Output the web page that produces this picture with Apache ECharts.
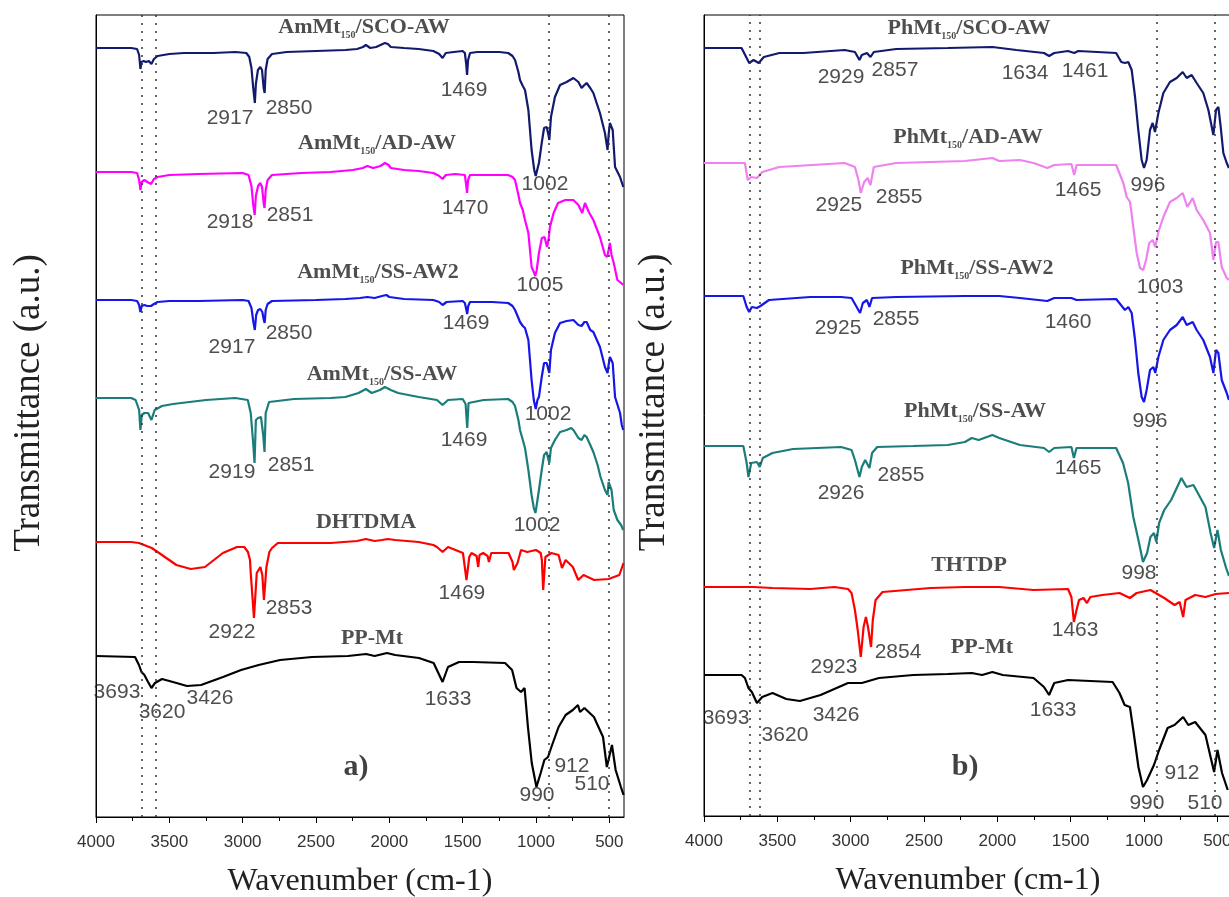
<!DOCTYPE html>
<html><head><meta charset="utf-8">
<script src="https://cdn.jsdelivr.net/npm/echarts@6/dist/echarts.min.js"></script>
<style>html,body{margin:0;padding:0;background:#fff}#c{width:1229px;height:897px}</style>
</head><body><div id="c"></div>
<script>
// ---------- tick values ----------
const majorTicks = [500,1000,1500,2000,2500,3000,3500,4000];
const minorTicks = [750,1250,1750,2250,2750,3250,3750];
const refLinesA = [3690,3590,912,506];
const refLinesB = [3690,3620,912,520];

// ---------- panel a spectra [wavenumber, transmittance a.u.] ----------
const a_SCO = [[4000,769],[3760,769],[3720,768],[3706,762],[3697,748],[3690,755],[3675,756],[3660,755],[3640,756],[3622,753],[3605,758],[3580,761],[3500,763],[3400,764],[3200,764],[3050,765],[2975,764],[2955,760],[2940,749],[2928,729],[2917,714],[2910,733],[2896,747],[2880,750],[2868,747],[2857,729],[2850,724],[2843,747],[2830,758],[2800,763],[2700,765],[2500,766],[2300,767],[2220,768],[2180,770],[2160,772],[2130,769],[2090,770],[2060,772],[2030,774],[2010,773],[1990,770],[1900,769],[1800,768],[1700,766],[1660,763],[1637,759],[1615,764],[1560,765],[1500,766],[1485,764],[1476,753],[1470,742],[1463,757],[1450,764],[1400,765],[1250,765],[1190,764],[1160,761],[1143,757],[1120,745],[1109,737],[1090,731],[1075,727],[1052,707],[1030,667],[1012,647],[1002,641],[995,642],[980,654],[961,674],[945,689],[927,690],[915,682],[909,677],[898,700],[871,720],[836,732],[791,735],[745,739],[711,735],[689,729],[670,732],[655,734],[630,729],[609,724],[564,704],[530,684],[512,667],[505,682],[496,694],[477,687],[461,650],[427,640],[405,630]];
const a_AD = [[4000,645],[3760,645],[3720,644],[3706,637],[3697,627],[3688,635],[3670,637],[3650,635],[3625,633],[3605,638],[3580,640],[3500,642],[3300,643],[3000,644],[2960,642],[2940,631],[2928,612],[2918,602],[2910,621],[2895,631],[2880,634],[2868,630],[2857,614],[2851,609],[2843,627],[2830,637],[2800,642],[2600,644],[2400,645],[2250,647],[2180,649],[2150,651],[2110,649],[2060,651],[2030,654],[2005,652],[1990,649],[1900,647],[1800,646],[1700,644],[1660,641],[1637,638],[1615,642],[1550,643],[1485,642],[1477,633],[1470,624],[1463,637],[1450,642],[1300,642],[1190,642],[1160,640],[1143,637],[1120,622],[1109,614],[1090,607],[1075,597],[1052,584],[1030,550],[1015,545],[1005,541],[995,547],[980,564],[960,579],[942,580],[925,570],[915,577],[905,590],[880,604],[850,614],[800,617],[745,617],[711,612],[685,604],[666,614],[640,605],[609,597],[564,580],[530,562],[515,560],[505,567],[496,574],[485,562],[470,554],[445,537],[420,534],[405,532]];
const a_SS2 = [[4000,517],[3760,517],[3720,516],[3706,512],[3697,505],[3688,511],[3670,512],[3650,511],[3625,511],[3605,513],[3580,515],[3500,516],[3300,516],[3000,517],[2960,516],[2940,509],[2927,495],[2917,487],[2908,502],[2895,507],[2880,508],[2866,505],[2856,497],[2850,494],[2843,507],[2830,513],[2800,516],[2500,517],[2300,518],[2200,519],[2150,520],[2100,519],[2050,521],[2020,522],[2000,520],[1900,518],[1700,517],[1660,515],[1637,512],[1610,515],[1500,516],[1485,514],[1476,508],[1469,503],[1462,511],[1450,515],[1300,515],[1190,514],[1160,511],[1143,507],[1120,499],[1109,495],[1090,491],[1075,489],[1052,477],[1030,437],[1015,417],[1002,408],[990,417],[980,420],[961,440],[945,454],[927,454],[915,447],[909,444],[898,467],[871,484],[836,494],[791,496],[745,497],[711,492],[689,491],[670,495],[655,495],[630,487],[609,485],[564,470],[530,450],[512,444],[505,452],[496,460],[477,454],[461,420],[427,404],[415,392],[405,387]];
const a_SS = [[4000,419],[3760,419],[3730,417],[3706,407],[3697,387],[3688,402],[3670,404],[3645,404],[3622,397],[3600,407],[3550,411],[3475,413],[3250,417],[3050,419],[2965,417],[2945,404],[2930,377],[2919,354],[2910,397],[2895,399],[2875,400],[2860,382],[2851,365],[2843,404],[2820,415],[2650,418],[2400,419],[2300,420],[2210,424],[2160,428],[2120,424],[2064,427],[2030,430],[1990,427],[1940,424],[1800,420],[1675,417],[1637,412],[1600,417],[1500,418],[1480,413],[1469,389],[1460,414],[1357,417],[1190,418],[1160,415],[1143,411],[1120,397],[1109,387],[1090,377],[1075,369],[1052,347],[1030,322],[1015,309],[1004,304],[995,312],[980,327],[961,347],[945,362],[927,365],[915,357],[909,354],[898,369],[871,377],[836,385],[791,387],[760,389],[745,387],[711,379],[689,377],[670,382],[655,380],[630,372],[609,365],[580,352],[560,340],[530,327],[512,322],[505,335],[496,337],[485,327],[470,307],[445,297],[420,292],[405,287]];
const a_DHTDMA = [[4000,275],[3760,275],[3707,274],[3620,269],[3550,262],[3452,252],[3354,248],[3257,250],[3135,264],[3039,270],[2989,270],[2964,265],[2950,257],[2945,244],[2923,199],[2904,244],[2879,250],[2866,242],[2855,217],[2838,250],[2818,265],[2800,269],[2760,274],[2400,274],[2220,276],[2160,278],[2100,276],[2050,277],[2010,278],[1960,277],[1800,275],[1700,272],[1675,270],[1637,265],[1600,270],[1498,264],[1474,237],[1455,260],[1440,264],[1405,261],[1394,250],[1385,262],[1360,264],[1330,261],[1321,255],[1305,264],[1187,264],[1160,255],[1151,247],[1126,254],[1102,267],[1060,265],[1000,267],[968,264],[960,257],[951,227],[936,260],[895,264],[846,262],[823,249],[798,257],[749,250],[712,237],[676,242],[603,237],[505,238],[432,242],[403,254]];
const a_PPMt = [[4000,161],[3734,160],[3707,152],[3690,145],[3670,142],[3645,135],[3622,129],[3598,134],[3550,138],[3475,135],[3380,131],[3284,132],[3134,140],[3011,147],[2891,152],[2745,157],[2527,160],[2282,161],[2159,163],[2100,161],[2016,164],[1960,162],[1798,159],[1698,154],[1637,135],[1600,150],[1525,155],[1430,155],[1211,154],[1163,147],[1133,129],[1102,125],[1078,129],[1055,90],[1029,54],[997,30],[968,44],[943,57],[918,60],[895,70],[846,90],[798,102],[749,107],[714,112],[700,105],[670,109],[605,100],[543,80],[517,50],[482,72],[457,47],[421,30],[403,22]];

// ---------- panel b spectra ----------
const b_SCO = [[4000,768],[3744,768],[3709,758],[3692,753],[3662,756],[3627,753],[3592,759],[3486,763],[3322,763],[3041,766],[2971,764],[2940,756],[2924,761],[2889,763],[2865,759],[2842,764],[2690,767],[2338,768],[2034,769],[1870,766],[1682,763],[1647,760],[1612,763],[1518,765],[1476,763],[1448,765],[1190,763],[1155,754],[1130,753],[1107,754],[1084,746],[1061,719],[1039,686],[1016,656],[1000,648],[982,656],[959,686],[941,693],[925,684],[902,703],[868,723],[823,734],[777,738],[736,744],[709,738],[675,741],[641,733],[596,723],[561,706],[527,681],[509,706],[493,709],[477,689],[459,663],[436,653],[421,648]];
const b_AD = [[4000,653],[3721,653],[3702,636],[3678,639],[3639,638],[3603,644],[3486,649],[3041,653],[2971,649],[2947,636],[2931,623],[2908,634],[2884,638],[2865,631],[2842,649],[2690,653],[2221,655],[2034,658],[1987,655],[1846,656],[1753,653],[1659,648],[1612,651],[1495,652],[1476,641],[1460,651],[1190,651],[1141,633],[1118,619],[1095,614],[1073,589],[1050,563],[1027,548],[1005,546],[986,556],[964,573],[941,576],[923,569],[902,584],[868,599],[823,614],[777,618],[736,623],[705,609],[668,618],[641,606],[596,596],[550,583],[527,556],[509,574],[493,574],[470,549],[436,538],[421,536]];
const b_SS2 = [[4000,520],[3732,520],[3709,509],[3692,504],[3674,509],[3639,508],[3615,510],[3557,516],[3275,519],[3065,519],[2994,518],[2959,509],[2936,503],[2917,513],[2889,516],[2872,509],[2854,518],[2690,519],[2221,520],[1987,520],[1846,518],[1659,515],[1612,518],[1495,518],[1483,520],[1460,516],[1190,517],[1130,506],[1107,509],[1084,503],[1061,476],[1039,443],[1016,419],[1000,414],[982,426],[959,446],[936,449],[923,443],[902,459],[868,476],[823,486],[777,491],[736,499],[709,491],[668,494],[641,486],[596,476],[550,459],[527,443],[509,466],[493,463],[470,436],[436,423],[421,416]];
const b_SS = [[4000,370],[3732,370],[3709,353],[3697,339],[3678,353],[3639,354],[3620,349],[3599,358],[3533,363],[3393,367],[3065,369],[2994,366],[2971,356],[2940,339],[2924,349],[2901,356],[2872,348],[2854,363],[2819,369],[2573,370],[2338,371],[2221,374],[2174,378],[2127,376],[2034,381],[1987,378],[1846,371],[1682,368],[1647,364],[1612,368],[1495,369],[1478,358],[1460,368],[1190,368],[1143,353],[1108,333],[1073,299],[1038,276],[1007,254],[979,263],[956,279],[932,283],[916,274],[897,293],[862,306],[815,316],[745,338],[710,329],[663,331],[581,309],[546,283],[522,268],[499,286],[476,266],[440,248],[421,240]];
const b_THTDP = [[4000,229],[3697,229],[3685,227],[3662,229],[3533,228],[3275,227],[3111,229],[3018,227],[2994,223],[2971,206],[2952,186],[2931,159],[2912,189],[2896,199],[2882,189],[2861,169],[2849,196],[2830,216],[2783,224],[2455,228],[2221,229],[1987,229],[1753,226],[1518,227],[1495,219],[1478,194],[1460,206],[1443,216],[1413,218],[1389,213],[1366,219],[1284,221],[1167,223],[1096,218],[1050,223],[956,226],[862,218],[792,211],[757,214],[733,199],[717,216],[651,221],[581,219],[511,222],[421,223]];
const b_PPMt = [[4000,141],[3744,141],[3721,138],[3697,128],[3674,124],[3639,113],[3603,119],[3533,123],[3439,117],[3346,115],[3205,121],[3018,133],[2924,133],[2807,138],[2573,141],[2338,142],[2174,143],[2104,141],[2034,144],[1963,141],[1753,138],[1682,129],[1647,121],[1612,133],[1518,136],[1214,134],[1167,123],[1132,111],[1096,109],[1073,86],[1038,49],[1007,29],[979,36],[932,51],[897,66],[839,88],[792,91],[733,99],[698,91],[651,94],[581,81],[546,59],[522,44],[499,66],[468,43],[429,26]];

// ---------- text annotations [text, wavenumber, transmittance] ----------
const aNames = [['AmMt','150','/SCO-AW',2173,790],['AmMt','150','/AD-AW',2084,674],['AmMt','150','/SS-AW2',2077,545],['AmMt','150','/SS-AW',2050,443],['DHTDMA','','',2159,295],['PP-Mt','','',2118,179]];
const bNames = [['PhMt','150','/SCO-AW',2193,788],['PhMt','150','/AD-AW',2200,679],['PhMt','150','/SS-AW2',2139,548],['PhMt','150','/SS-AW',2152,405],['THTDP','','',2193,251],['PP-Mt','','',2105,169]];
const aPeaks = [['2917',3086,699],['2850',2684,709],['1469',1491,727],['1002',939,633],
  ['2918',3086,595],['2851',2677,602],['1470',1484,609],['1005',973,532],
  ['2917',3073,470],['2850',2684,484],['1469',1477,494],['1002',918,403],
  ['2919',3073,345],['2851',2670,352],['1469',1491,377],['1002',993,292],
  ['2922',3073,185],['2853',2684,209],['1469',1505,224],
  ['3693',3857,125],['3620',3550,105],['3426',3223,119],['1633',1600,118],['990',993,22],['912',755,51],['510',618,33]];
const bPeaks = [['2929',3066,739],['2857',2698,746],['1634',1811,743],['1461',1402,745],['996',973,631],
  ['2925',3080,611],['2855',2670,619],['1465',1450,626],['1003',891,529],
  ['2925',3086,488],['2855',2691,497],['1460',1518,494],['996',959,395],
  ['2926',3066,323],['2855',2657,341],['1465',1450,348],['998',1034,243],
  ['2923',3114,149],['2854',2677,164],['1463',1470,186],
  ['3693',3850,98],['3620',3448,81],['3426',3100,101],['1633',1620,106],['990',980,13],['912',741,43],['510',584,13]];
const aTag = [['a)',2227,50]];
const bTag = [['b)',2220,49]];

// ---------- build ----------
const serif = "'Liberation Serif','Times New Roman',serif";
const sans = "'Liberation Sans',Arial,sans-serif";
function specSeries(data, color, xi, yi, extra) {
  return Object.assign({type:'line', xAxisIndex:xi, yAxisIndex:yi, data:data, symbol:'none', showSymbol:false,
    lineStyle:{color:color, width:2.2}, itemStyle:{color:color}, clip:true, silent:true, z:3, animation:false}, extra||{});
}
function textSeries(items, xi, yi, labelCfg) {
  return {type:'scatter', xAxisIndex:xi, yAxisIndex:yi, symbolSize:1, itemStyle:{color:'rgba(0,0,0,0)'}, silent:true, animation:false, z:5,
    data: items.map(it => ({name: it[0], value:[it[1], it[2]]})),
    label: Object.assign({show:true, position:'inside'}, labelCfg)};
}
function nameSeries(items, xi, yi) {
  return {type:'scatter', xAxisIndex:xi, yAxisIndex:yi, symbolSize:1, itemStyle:{color:'rgba(0,0,0,0)'}, silent:true, animation:false, z:5,
    data: items.map(it => ({name: it[1] ? ('{b|'+it[0]+'}{s|'+it[1]+'}{b|'+it[2]+'}') : ('{b|'+it[0]+'}'), value:[it[3], it[4]]})),
    label:{show:true, position:'inside', formatter: p => p.name,
      rich:{b:{fontFamily:serif, fontWeight:'bold', fontSize:22, lineHeight:26, color:'#222'},
            s:{fontFamily:serif, fontWeight:'bold', fontSize:10, lineHeight:10, padding:[16,0,0,0], color:'#222'}}}};
}
function refLines(vals) {
  return {silent:true, symbol:['none','none'], animation:false, label:{show:false},
    lineStyle:{type:[2,6], color:'#333', width:1.5}, data: vals.map(v => ({xAxis:v}))};
}
function xMajor(gi) {
  return {gridIndex:gi, type:'value', min:400, max:4000, inverse:true, position:'bottom',
    axisLine:{onZero:false, lineStyle:{color:'#000', width:1}},
    axisTick:{show:true, length:6, customValues:majorTicks, lineStyle:{color:'#000', width:1}},
    axisLabel:{customValues:majorTicks, formatter: v => String(v), color:'#333', fontSize:17, fontFamily:sans, margin:17},
    splitLine:{show:false},
    name:'Wavenumber (cm-1)', nameLocation:'middle', nameGap:49,
    nameTextStyle:{fontFamily:serif, fontSize:32, color:'#222'}};
}
function xMinor(gi) {
  return {gridIndex:gi, type:'value', min:400, max:4000, inverse:true, position:'bottom',
    axisLine:{show:false}, axisLabel:{show:false}, splitLine:{show:false},
    axisTick:{show:true, length:4, customValues:minorTicks, lineStyle:{color:'#000', width:1}}};
}
function yAx(gi, max, gap) {
  return {gridIndex:gi, type:'value', min:0, max:max, axisLine:{show:true, lineStyle:{color:'#000'}},
    axisTick:{show:false}, axisLabel:{show:false}, splitLine:{show:false},
    name:'Transmittance (a.u.)', nameLocation:'middle', nameGap:gap, nameRotate:90,
    nameTextStyle:{fontFamily:serif, fontSize:37, color:'#222', padding:[0,0,0,26]}};
}
const peakLabel = {formatter: p => p.name, fontFamily:sans, fontSize:21, color:'#222'};
const tagLabel = {formatter: p => p.name, fontFamily:serif, fontWeight:'bold', fontSize:30, color:'#111'};

const option = {
  backgroundColor:'#fff',
  animation:false,
  grid:[
    {left:96, top:15, width:528, height:802, show:true, borderColor:'#000', borderWidth:1, backgroundColor:'transparent', containLabel:false, outerBoundsMode:'none'},
    {left:704, top:15, width:528, height:801, show:true, borderColor:'#000', borderWidth:1, backgroundColor:'transparent', containLabel:false, outerBoundsMode:'none'}
  ],
  xAxis:[xMajor(0), xMinor(0), xMajor(1), xMinor(1)],
  yAxis:[yAx(0, 802, 48), yAx(1, 801, 31)],
  series:[
    specSeries(a_SCO, '#121a6e', 0, 0),
    specSeries(a_AD, '#ff00ff', 0, 0),
    specSeries(a_SS2, '#1616e8', 0, 0),
    specSeries(a_SS, '#1a7d79', 0, 0),
    specSeries(a_DHTDMA, '#ff0000', 0, 0),
    specSeries(a_PPMt, '#000000', 0, 0, {markLine: refLines(refLinesA)}),
    specSeries(b_SCO, '#121a6e', 2, 1),
    specSeries(b_AD, '#ee82ee', 2, 1),
    specSeries(b_SS2, '#1616e8', 2, 1),
    specSeries(b_SS, '#1a7d79', 2, 1),
    specSeries(b_THTDP, '#ff0000', 2, 1),
    specSeries(b_PPMt, '#000000', 2, 1, {markLine: refLines(refLinesB)}),
    nameSeries(aNames, 0, 0),
    nameSeries(bNames, 2, 1),
    textSeries(aPeaks, 0, 0, peakLabel),
    textSeries(bPeaks, 2, 1, peakLabel),
    textSeries(aTag, 0, 0, tagLabel),
    textSeries(bTag, 2, 1, tagLabel)
  ]
};
const chart = echarts.init(document.getElementById('c'), null, {renderer:'canvas'});
chart.setOption(option);
</script>
</body></html>
